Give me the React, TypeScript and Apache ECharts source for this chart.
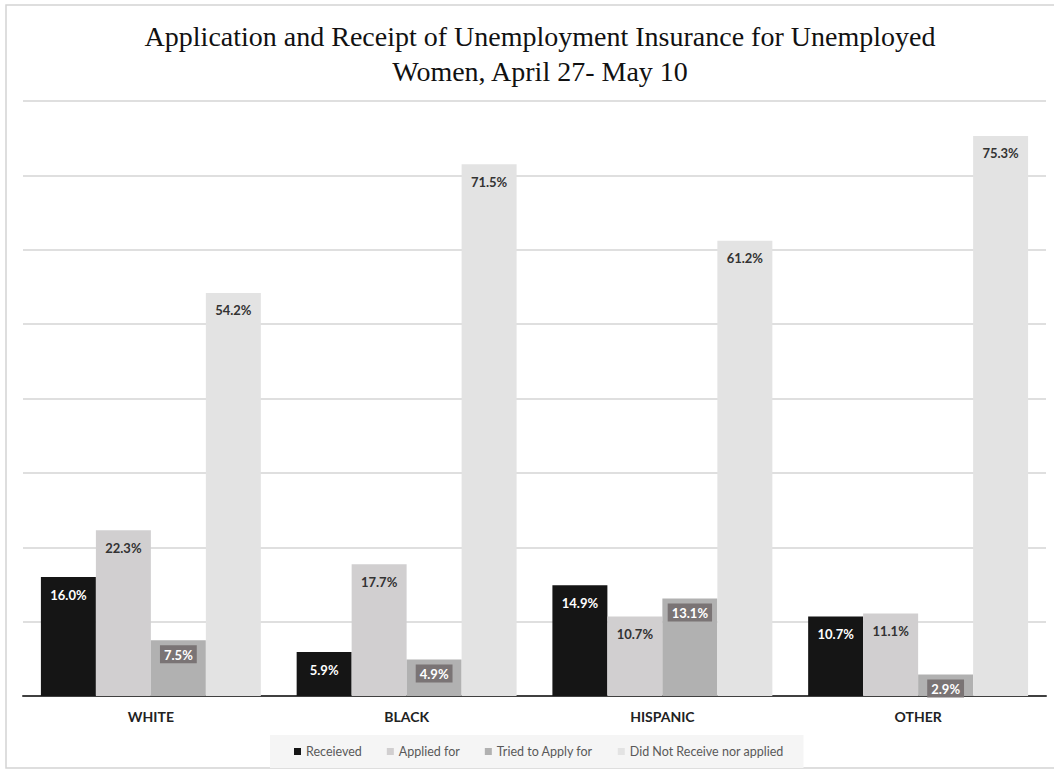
import React, { useEffect, useRef } from "react";
import * as echarts from "echarts";

const categories = ["WHITE", "BLACK", "HISPANIC", "OTHER"];
const received = [16.0, 5.9, 14.9, 10.7];
const appliedFor = [22.3, 17.7, 10.7, 11.1];
const triedToApply = [7.5, 4.9, 13.1, 2.9];
const didNotReceive = [54.2, 71.5, 61.2, 75.3];
const seriesNames = ["Receieved", "Applied for", "Tried to Apply for", "Did Not Receive nor applied"];

const fmt = (p: any) => Number(p.value).toFixed(1) + "%";

export default function App() {
  const ref = useRef<HTMLDivElement>(null);
  useEffect(() => {
    if (!ref.current) return;
    const chart = echarts.init(ref.current, undefined, { renderer: "svg" });
    const labelBase = {
      show: true,
      position: "insideTop" as const,
      formatter: fmt,
      fontFamily: "Lato",
      fontWeight: "bold" as const,
      fontSize: 13,
    };
    chart.setOption({
      animation: false,
      backgroundColor: "#ffffff",
      title: {
        text: "Application and Receipt of Unemployment Insurance for Unemployed\nWomen, April 27- May 10",
        left: 535,
        top: 14,
        textAlign: "center",
        textStyle: {
          fontFamily: "Liberation Serif",
          fontWeight: "normal",
          fontSize: 28,
          lineHeight: 35,
          color: "#111111",
        },
      },
      graphic: [
        {
          type: "rect",
          shape: { x: 6, y: 5, width: 1060, height: 763 },
          style: { fill: "none", stroke: "#d4d4d4", lineWidth: 1.5 },
          silent: true,
        },
      ],
      legend: {
        bottom: 2,
        left: 270,
        backgroundColor: "#f5f5f5",
        padding: [10, 20, 10, 24],
        itemWidth: 7,
        itemHeight: 7,
        itemGap: 25,
        icon: "rect",
        textStyle: { fontFamily: "Lato", fontSize: 12.5, color: "#595959" },
        data: seriesNames,
      },
      grid: { left: 23, right: 8, top: 101, bottom: 74 },
      xAxis: {
        type: "category",
        data: categories,
        axisLine: { lineStyle: { color: "#404040", width: 2 } },
        axisTick: { show: false },
        axisLabel: {
          fontFamily: "Lato",
          fontWeight: "bold",
          fontSize: 14,
          color: "#222222",
          margin: 13,
        },
      },
      yAxis: {
        type: "value",
        min: 0,
        max: 80,
        interval: 10,
        axisLabel: { show: false },
        axisLine: { show: false },
        axisTick: { show: false },
        splitLine: { lineStyle: { color: "#d4d4d4", width: 1.5 } },
      },
      series: [
        {
          name: seriesNames[0],
          type: "bar",
          data: received,
          barGap: "0%",
          barCategoryGap: "14%",
          itemStyle: { color: "#151515" },
          label: { ...labelBase, color: "#ffffff", distance: 11 },
        },
        {
          name: seriesNames[1],
          type: "bar",
          data: appliedFor,
          itemStyle: { color: "#d1cfd0" },
          label: { ...labelBase, color: "#333333", distance: 11 },
        },
        {
          name: seriesNames[2],
          type: "bar",
          data: triedToApply,
          itemStyle: { color: "#b1b1b1" },
          label: {
            ...labelBase,
            color: "#ffffff",
            distance: 5,
            backgroundColor: "#7a7475",
            padding: [3, 4, 2, 4],
          },
        },
        {
          name: seriesNames[3],
          type: "bar",
          data: didNotReceive,
          itemStyle: { color: "#e3e3e3" },
          label: { ...labelBase, color: "#333333", distance: 11 },
        },
      ],
    });
    return () => chart.dispose();
  }, []);
  return (
    <div
      ref={ref}
      style={{ position: "fixed", left: 0, top: 0, width: 1054, height: 770 }}
    />
  );
}
